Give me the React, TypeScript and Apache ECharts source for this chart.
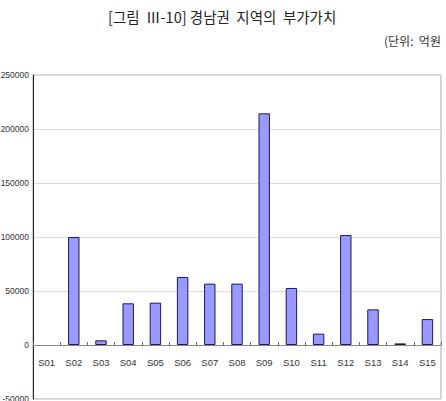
import React, { useEffect, useRef } from "react";
import * as echarts from "echarts";

const categories = ["S01", "S02", "S03", "S04", "S05", "S06", "S07", "S08", "S09", "S10", "S11", "S12", "S13", "S14", "S15"];
const values = [0, 100000, 4300, 38600, 39200, 63000, 56800, 56800, 214500, 52800, 10500, 101800, 33000, 1500, 24000];
const titleText = "[그림\u00A0\u00A0Ⅲ-10]\u00A0경남권\u00A0\u00A0지역의\u00A0\u00A0부가가치";
const unitText = "(단위:\u00A0\u00A0억원";
const yMin = -50000;
const yMax = 250000;
const yStep = 50000;

const GRID_TOP = 75;
const GRID_BOTTOM = 2;
const HEIGHT = 401;

export default function App() {
  const ref = useRef<HTMLDivElement>(null);
  useEffect(() => {
    if (!ref.current) return;
    const chart = echarts.init(ref.current, null, { renderer: "svg" });
    const plotH = HEIGHT - GRID_TOP - GRID_BOTTOM;
    const zeroOffset = -plotH * (0 - yMin) / (yMax - yMin);
    const numFont = "'Liberation Sans', Arial, sans-serif";
    chart.setOption({
      animation: false,
      backgroundColor: "#ffffff",
      title: {
        text: titleText,
        left: 108,
        top: 9,
        padding: 0,
        textStyle: {
          fontFamily: "'Noto Sans CJK KR', sans-serif",
          fontSize: 14.5,
          fontWeight: "normal",
          color: "#222",
        },
      },
      graphic: [
        {
          type: "text",
          left: 384,
          top: 34,
          style: {
            text: unitText,
            fontFamily: "'Noto Sans CJK KR', sans-serif",
            fontSize: 12,
            fill: "#333",
          },
        },
      ],
      grid: {
        left: 33,
        right: 5,
        top: GRID_TOP,
        bottom: GRID_BOTTOM,
        containLabel: false,
        outerBoundsMode: "none",
        show: true,
        borderColor: "#aaaaaa",
        borderWidth: 1,
        backgroundColor: "transparent",
      },
      xAxis: {
        type: "category",
        data: categories,
        position: "bottom",
        offset: zeroOffset,
        axisLine: { onZero: false, lineStyle: { color: "#888888", width: 1 } },
        axisTick: { show: true, inside: true, length: 3, lineStyle: { color: "#666666" } },
        axisLabel: {
          fontFamily: numFont,
          fontSize: 9.5,
          color: "#333",
          margin: 12,
          interval: 0,
        },
      },
      yAxis: {
        type: "value",
        min: yMin,
        max: yMax,
        interval: yStep,
        axisLine: { show: true, lineStyle: { color: "#222222", width: 1 } },
        axisTick: { show: false },
        axisLabel: {
          fontFamily: numFont,
          fontSize: 8.5,
          color: "#333",
          margin: 4,
          formatter: (v: number) => String(v),
        },
        splitLine: { show: true, lineStyle: { color: "#dddddd", width: 1 } },
      },
      series: [
        {
          type: "bar",
          data: values.map((v) => (v === 0 ? "-" : v)),
          barWidth: "42%",
          itemStyle: {
            color: "#9999ff",
            borderColor: "#1a1a5e",
            borderWidth: 1,
          },
        },
      ],
    });
    return () => chart.dispose();
  }, []);
  return (
    <div
      ref={ref}
      style={{ position: "fixed", left: 0, top: 0, width: 446, height: 401 }}
    />
  );
}
